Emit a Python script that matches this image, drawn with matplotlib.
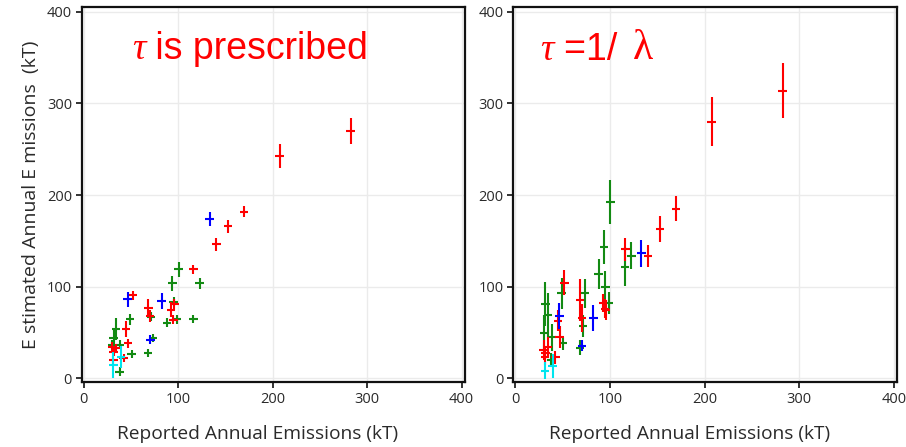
import matplotlib
matplotlib.use("Agg")
import matplotlib.pyplot as plt
import numpy as np

# reported emissions (kT) per group, shared by both panels
red_x = [282.5, 207.5, 169.7, 152.8, 140.4, 116.2, 51.8, 45.0, 46.8, 68.5,
         70.5, 92.5, 96.0, 95.0, 30.0, 34.5, 31.8, 31.5, 42.4]
red_a = [270, 243, 182, 166, 146, 119, 90.5, 53.5, 38, 77,
         68, 75, 81, 64, 34.5, 32.7, 29, 20, 21.8]
red_a_err = [14, 13, 6, 7, 7, 5, 5, 9, 5, 10, 7, 8, 6, 5, 5, 5, 5, 4, 4]
red_b = [314, 280, 185, 163, 133.5, 140.7, 104.4, 63, 44.7, 85.5,
         65.5, 81.8, 74.5, 76, 31, 34.5, 27, 23, 23]
red_b_err = [30, 27, 13.5, 14, 12, 12.7, 13.5, 12, 12, 23,
             15, 10, 11, 10, 11, 10, 8, 9, 7]

blue_x = [133.3, 82.5, 46.5, 70.6]
blue_a = [173.8, 84.5, 86, 41.8]
blue_a_err = [8, 9, 8, 5]
blue_b = [136.4, 65.5, 68, 35.3]
blue_b_err = [14.5, 14, 14.5, 6]

green_x = [100.6, 94.0, 122.8, 95.2, 99.0, 88.0, 116.0, 73.2, 71.5, 68.3,
           50.7, 49.0, 34.5, 31.8, 30.3, 38.5, 38.1]
green_a = [119, 103.6, 103.6, 83.6, 64.4, 60.7, 64.4, 44, 67, 27.3,
           26.5, 64.4, 54, 43.6, 36.4, 36.4, 7.3]
green_a_err = [8, 8, 6, 5, 5, 4, 4, 4, 5, 4, 4, 6, 12, 9, 5, 5, 4]
green_b = [192.7, 143.6, 133.8, 100, 82.5, 113.8, 121.8, 92.7, 57, 33.5,
           38.2, 92.7, 69, 81, 49, 44.7, 20]
green_b_err = [24, 18.5, 14.5, 17, 12, 16, 21, 16, 12, 8,
               7, 17, 24, 24, 20, 15, 8]

cyan_x = [31.5, 39.5]
cyan_a = [14.5, 23.6]
cyan_a_err = [14, 12]
cyan_b = [8.4, 13.5]
cyan_b_err = [9, 13]

ticks = [0, 100, 200, 300, 400]

plt.rcParams['font.family'] = ['Open Sans', 'DejaVu Sans']

fig = plt.figure(figsize=(9.06, 4.47), dpi=100)
ax1 = fig.add_axes([0.0902, 0.1447, 0.4225, 0.839])
ax2 = fig.add_axes([0.5666, 0.1447, 0.4232, 0.839])

groups_a = [(green_x, green_a, green_a_err, '#138a13'),
            (red_x, red_a, red_a_err, '#ff0000'),
            (blue_x, blue_a, blue_a_err, '#0000ff'),
            (cyan_x, cyan_a, cyan_a_err, '#00e5ee')]
groups_b = [(green_x, green_b, green_b_err, '#138a13'),
            (red_x, red_b, red_b_err, '#ff0000'),
            (blue_x, blue_b, blue_b_err, '#0000ff'),
            (cyan_x, cyan_b, cyan_b_err, '#00e5ee')]

for ax, groups in [(ax1, groups_a), (ax2, groups_b)]:
    for x, y, e, c in groups:
        e = np.maximum(np.array(e, dtype=float), 4.5)
        ax.errorbar(x, y, yerr=e, xerr=4.5, fmt='none', ecolor=c,
                    elinewidth=1.5, capsize=0)
    ax.set_xlim(-2, 403)
    ax.set_ylim(-4.5, 405)
    ax.set_xticks(ticks)
    ax.set_yticks(ticks)
    ax.grid(True, color='#ebebeb', linewidth=1)
    ax.set_axisbelow(True)
    for s in ax.spines.values():
        s.set_linewidth(1.6)
        s.set_color('#111111')
    ax.tick_params(direction='out', length=4, width=1.2, pad=3,
                   labelsize=10.5, labelcolor='#2a2a2a', color='#111111')
    ax.set_xlabel('Reported Annual Emissions (kT)', fontsize=13.8,
                  color='#2a2a2a')
    ax.xaxis.set_label_coords(0.46, -0.115)

ax1.set_ylabel('E stimated Annual E missions  (kT)', fontsize=14,
               color='#2a2a2a', labelpad=5)

# panel titles
t1 = ax1.text(51, 349, 'τ', family='Liberation Serif', style='italic',
              color='red', fontsize=27, va='baseline')
ax1.annotate(' is prescribed', xy=(1, 0), xycoords=t1, va='bottom',
             family='Liberation Sans', color='red', fontsize=27)

t2 = ax2.text(27.5, 347, 'τ ', family='Liberation Serif', style='italic',
              color='red', fontsize=27, va='baseline')
t3 = ax2.annotate('=1/ ', xy=(1, 0), xycoords=t2, va='bottom',
                  family='Liberation Sans', color='red', fontsize=27)
ax2.annotate('λ', xy=(1, 0), xycoords=t3, xytext=(4, 0),
             textcoords='offset points', va='bottom',
             family='Liberation Serif', color='red', fontsize=30)

fig.savefig('out.png', dpi=100)
